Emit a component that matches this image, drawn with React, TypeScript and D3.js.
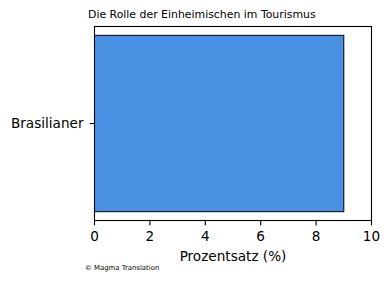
import React from "react";
import * as d3 from "d3";

const categories = ["Brasilianer"];
const values = [9];
const xTicks = [0, 2, 4, 6, 8, 10];
const title = "Die Rolle der Einheimischen im Tourismus";
const xLabel = "Prozentsatz (%)";
const credit = "© Magma Translation";

export default function App() {
  const W = 390, H = 282;
  const left = 94.5, right = 371.5, top = 26.5, bottom = 220.5;
  const x = d3.scaleLinear().domain([0, 10]).range([left, right]);
  const y = d3.scaleBand().domain(categories).range([top, bottom]).paddingInner(0).paddingOuter(0);
  const bw = y.bandwidth();
  const barH = bw * (0.8 / 0.88);
  const font = "'DejaVu Sans', sans-serif";
  const fs = 13.6;
  return (
    <svg width={W} height={H} style={{ position: "absolute", left: 0, top: 0 }} fontFamily={font}>
      <rect width={W} height={H} fill="#fff" />
      <text x={88} y={18} fontSize={10.9} textAnchor="start" fill="#000">{title}</text>
      {categories.map((c, i) => {
        const cy = (y(c) as number) + bw / 2;
        return (
          <g key={c}>
            <rect x={x(0)} y={cy - barH / 2} width={x(values[i]) - x(0)} height={barH}
              fill="#4a90e2" stroke="#000" strokeWidth={1} />
            <line x1={left} x2={left - 4.9} y1={cy} y2={cy} stroke="#000" strokeWidth={1.1} />
            <text x={left - 11} y={cy} dy="0.36em" fontSize={fs} textAnchor="end" fill="#000">{c}</text>
          </g>
        );
      })}
      <rect x={left} y={top} width={right - left} height={bottom - top} fill="none" stroke="#000" strokeWidth={1.1} />
      {xTicks.map((t) => (
        <g key={t}>
          <line x1={x(t)} x2={x(t)} y1={bottom} y2={bottom + 4.9} stroke="#000" strokeWidth={1.1} />
          <text x={x(t)} y={241} fontSize={fs} textAnchor="middle" fill="#000">{t}</text>
        </g>
      ))}
      <text x={(left + right) / 2} y={261} fontSize={fs} textAnchor="middle" fill="#000">{xLabel}</text>
      <text x={85} y={270} fontSize={6.9} fill="#000">{credit}</text>
    </svg>
  );
}
